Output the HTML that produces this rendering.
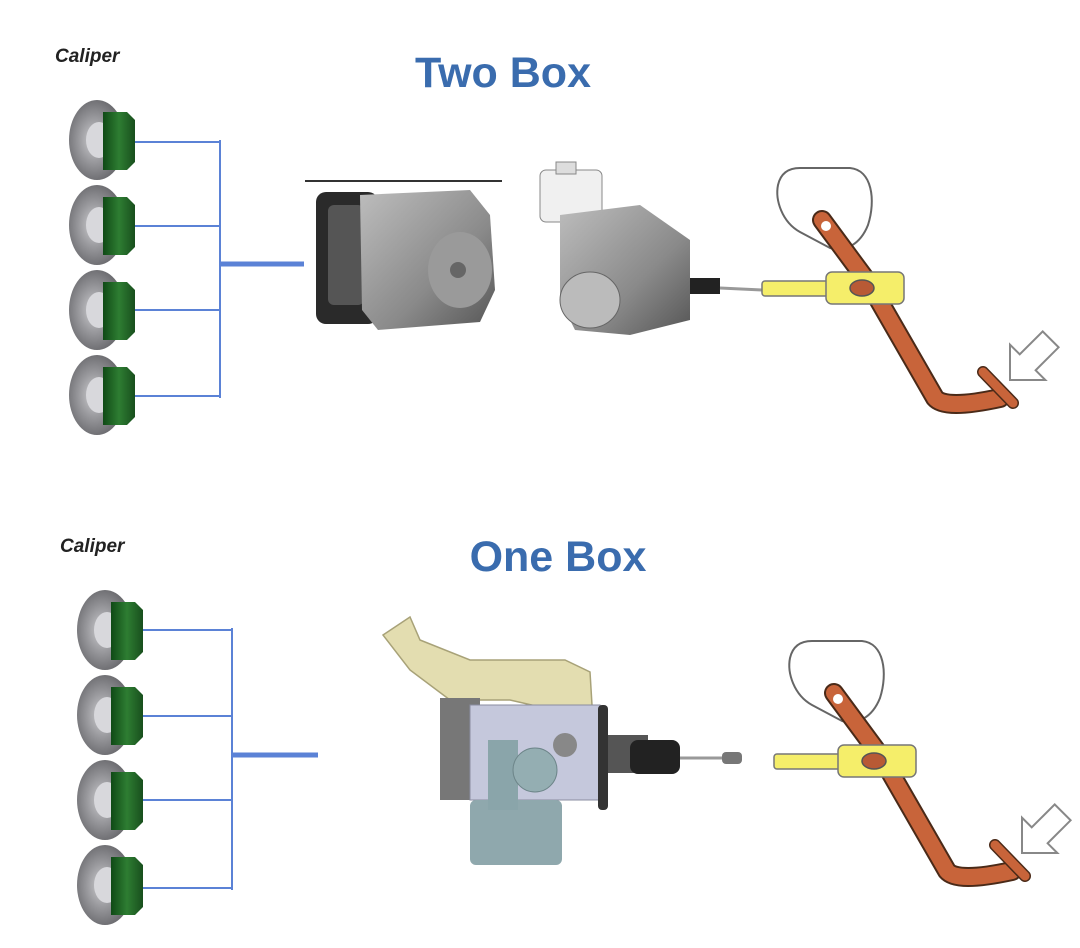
<!DOCTYPE html>
<html><head><meta charset="utf-8"><style>
html,body{margin:0;padding:0;background:#fff;width:1080px;height:948px;overflow:hidden}
</style></head><body>
<svg width="1080" height="948" viewBox="0 0 1080 948" xmlns="http://www.w3.org/2000/svg">
<defs>
<radialGradient id="disk" cx="0.45" cy="0.5" r="0.6"><stop offset="0" stop-color="#cfcfd2"/><stop offset="0.45" stop-color="#9a9a9e"/><stop offset="1" stop-color="#5e5e62"/></radialGradient>
<linearGradient id="grn" x1="0" x2="1"><stop offset="0" stop-color="#0f4a16"/><stop offset="0.5" stop-color="#2e7d32"/><stop offset="1" stop-color="#184f1d"/></linearGradient>
<linearGradient id="gray" x1="0" x2="1" y1="0" y2="1"><stop offset="0" stop-color="#bdbdbd"/><stop offset="0.6" stop-color="#8a8a8a"/><stop offset="1" stop-color="#555"/></linearGradient>
<g id="cal">
<ellipse cx="0" cy="0" rx="28" ry="40" fill="url(#disk)"/>
<ellipse cx="2" cy="0" rx="13" ry="18" fill="#d8d8dc"/>
<path d="M6,-28 h24 l8,8 v42 l-8,8 h-24 z" fill="url(#grn)"/>
</g>
<g id="pedal">
<path d="M800,168 L850,168 C872,170 876,200 868,225 C860,245 845,252 830,248 L800,232 C782,222 775,200 778,185 C781,172 790,168 800,168 Z" fill="none" stroke="#666" stroke-width="2"/>
<path d="M822,220 L870,285 L935,398 Q945,410 1000,398" fill="none" stroke="#4a2a18" stroke-width="20" stroke-linecap="round" stroke-linejoin="round"/>
<path d="M822,220 L870,285 L935,398 Q945,410 1000,398" fill="none" stroke="#c8643a" stroke-width="16" stroke-linecap="round" stroke-linejoin="round"/>
<line x1="983" y1="372" x2="1013" y2="403" stroke="#4a2a18" stroke-width="12" stroke-linecap="round"/>
<line x1="983" y1="372" x2="1013" y2="403" stroke="#c8643a" stroke-width="9" stroke-linecap="round"/>
<circle cx="826" cy="226" r="5" fill="#fff"/>
<rect x="762" y="281" width="70" height="15" rx="3" fill="#f5ee6a" stroke="#777" stroke-width="1.5"/>
<rect x="826" y="272" width="78" height="32" rx="6" fill="#f5ee6a" stroke="#777" stroke-width="1.5"/>
<ellipse cx="862" cy="288" rx="12" ry="8" fill="#b85a35" stroke="#555" stroke-width="1.5"/>
<polygon transform="translate(1010,380) rotate(-45) scale(1.25)" points="0,0 20,-20 20,-9 46,-9 46,9 20,9 20,20" fill="#fff" stroke="#888" stroke-width="1.6"/>
</g>
</defs>

<text x="55" y="62" font-family="Liberation Sans, sans-serif" font-style="italic" font-weight="bold" font-size="19" fill="#222">Caliper</text>
<text x="503" y="87" text-anchor="middle" font-family="Liberation Sans, sans-serif" font-weight="bold" font-size="43" fill="#3a6cae">Two Box</text>
<g fill="none" stroke="#5b82d6" stroke-width="2">
<path d="M132,142 H220 M132,226 H220 M132,310 H220 M132,396 H220 M220,140 V398"/>
</g>
<line x1="220" y1="264" x2="304" y2="264" stroke="#5b82d6" stroke-width="5"/>
<use href="#cal" x="97" y="140"/>
<use href="#cal" x="97" y="225"/>
<use href="#cal" x="97" y="310"/>
<use href="#cal" x="97" y="395"/>

<line x1="305" y1="181" x2="502" y2="181" stroke="#333" stroke-width="2"/>
<rect x="316" y="192" width="62" height="132" rx="10" fill="#2a2a2a"/>
<rect x="328" y="205" width="36" height="100" rx="6" fill="#555"/>
<path d="M360,195 L470,190 L490,215 L495,290 L480,322 L378,330 L362,310 Z" fill="url(#gray)"/>
<ellipse cx="460" cy="270" rx="32" ry="38" fill="#9a9a9a"/>
<circle cx="458" cy="270" r="8" fill="#666"/>

<rect x="540" y="170" width="62" height="52" rx="6" fill="#f0f0f0" stroke="#888"/>
<rect x="556" y="162" width="20" height="12" fill="#ddd" stroke="#888"/>
<path d="M560,215 L640,205 L690,240 L690,320 L630,335 L575,330 L560,300 Z" fill="url(#gray)"/>
<ellipse cx="590" cy="300" rx="30" ry="28" fill="#bbb" stroke="#666"/>
<rect x="690" y="278" width="30" height="16" fill="#222"/>
<line x1="720" y1="288" x2="762" y2="290" stroke="#999" stroke-width="3"/>

<use href="#pedal"/>

<text x="60" y="552" font-family="Liberation Sans, sans-serif" font-style="italic" font-weight="bold" font-size="19" fill="#222">Caliper</text>
<text x="558" y="571" text-anchor="middle" font-family="Liberation Sans, sans-serif" font-weight="bold" font-size="43" fill="#3a6cae">One Box</text>
<g fill="none" stroke="#5b82d6" stroke-width="2">
<path d="M140,630 H232 M140,716 H232 M140,800 H232 M140,888 H232 M232,628 V890"/>
</g>
<line x1="232" y1="755" x2="318" y2="755" stroke="#5b82d6" stroke-width="5"/>
<use href="#cal" x="105" y="630"/>
<use href="#cal" x="105" y="715"/>
<use href="#cal" x="105" y="800"/>
<use href="#cal" x="105" y="885"/>

<path d="M383,635 L410,617 L420,640 L470,660 L565,660 L590,672 L592,705 L575,715 L510,700 L450,700 L410,670 Z" fill="#e3ddb0" stroke="#a8a278" stroke-width="1.5"/>
<rect x="440" y="698" width="40" height="102" fill="#777"/>
<rect x="470" y="705" width="130" height="95" fill="#c5c8dc" stroke="#8a8da0"/>
<rect x="470" y="800" width="92" height="65" rx="6" fill="#8fa8ad"/>
<rect x="488" y="740" width="30" height="70" fill="#8aa5aa"/>
<circle cx="535" cy="770" r="22" fill="#94aeb2" stroke="#6d8589"/>
<circle cx="565" cy="745" r="12" fill="#888"/>
<rect x="598" y="705" width="10" height="105" rx="4" fill="#333"/>
<rect x="608" y="735" width="40" height="38" fill="#555"/>
<rect x="630" y="740" width="50" height="34" rx="8" fill="#222"/>
<line x1="680" y1="758" x2="725" y2="758" stroke="#999" stroke-width="3"/>
<rect x="722" y="752" width="20" height="12" rx="4" fill="#777"/>

<use href="#pedal" transform="translate(12,473)"/>
</svg>
</body></html>
